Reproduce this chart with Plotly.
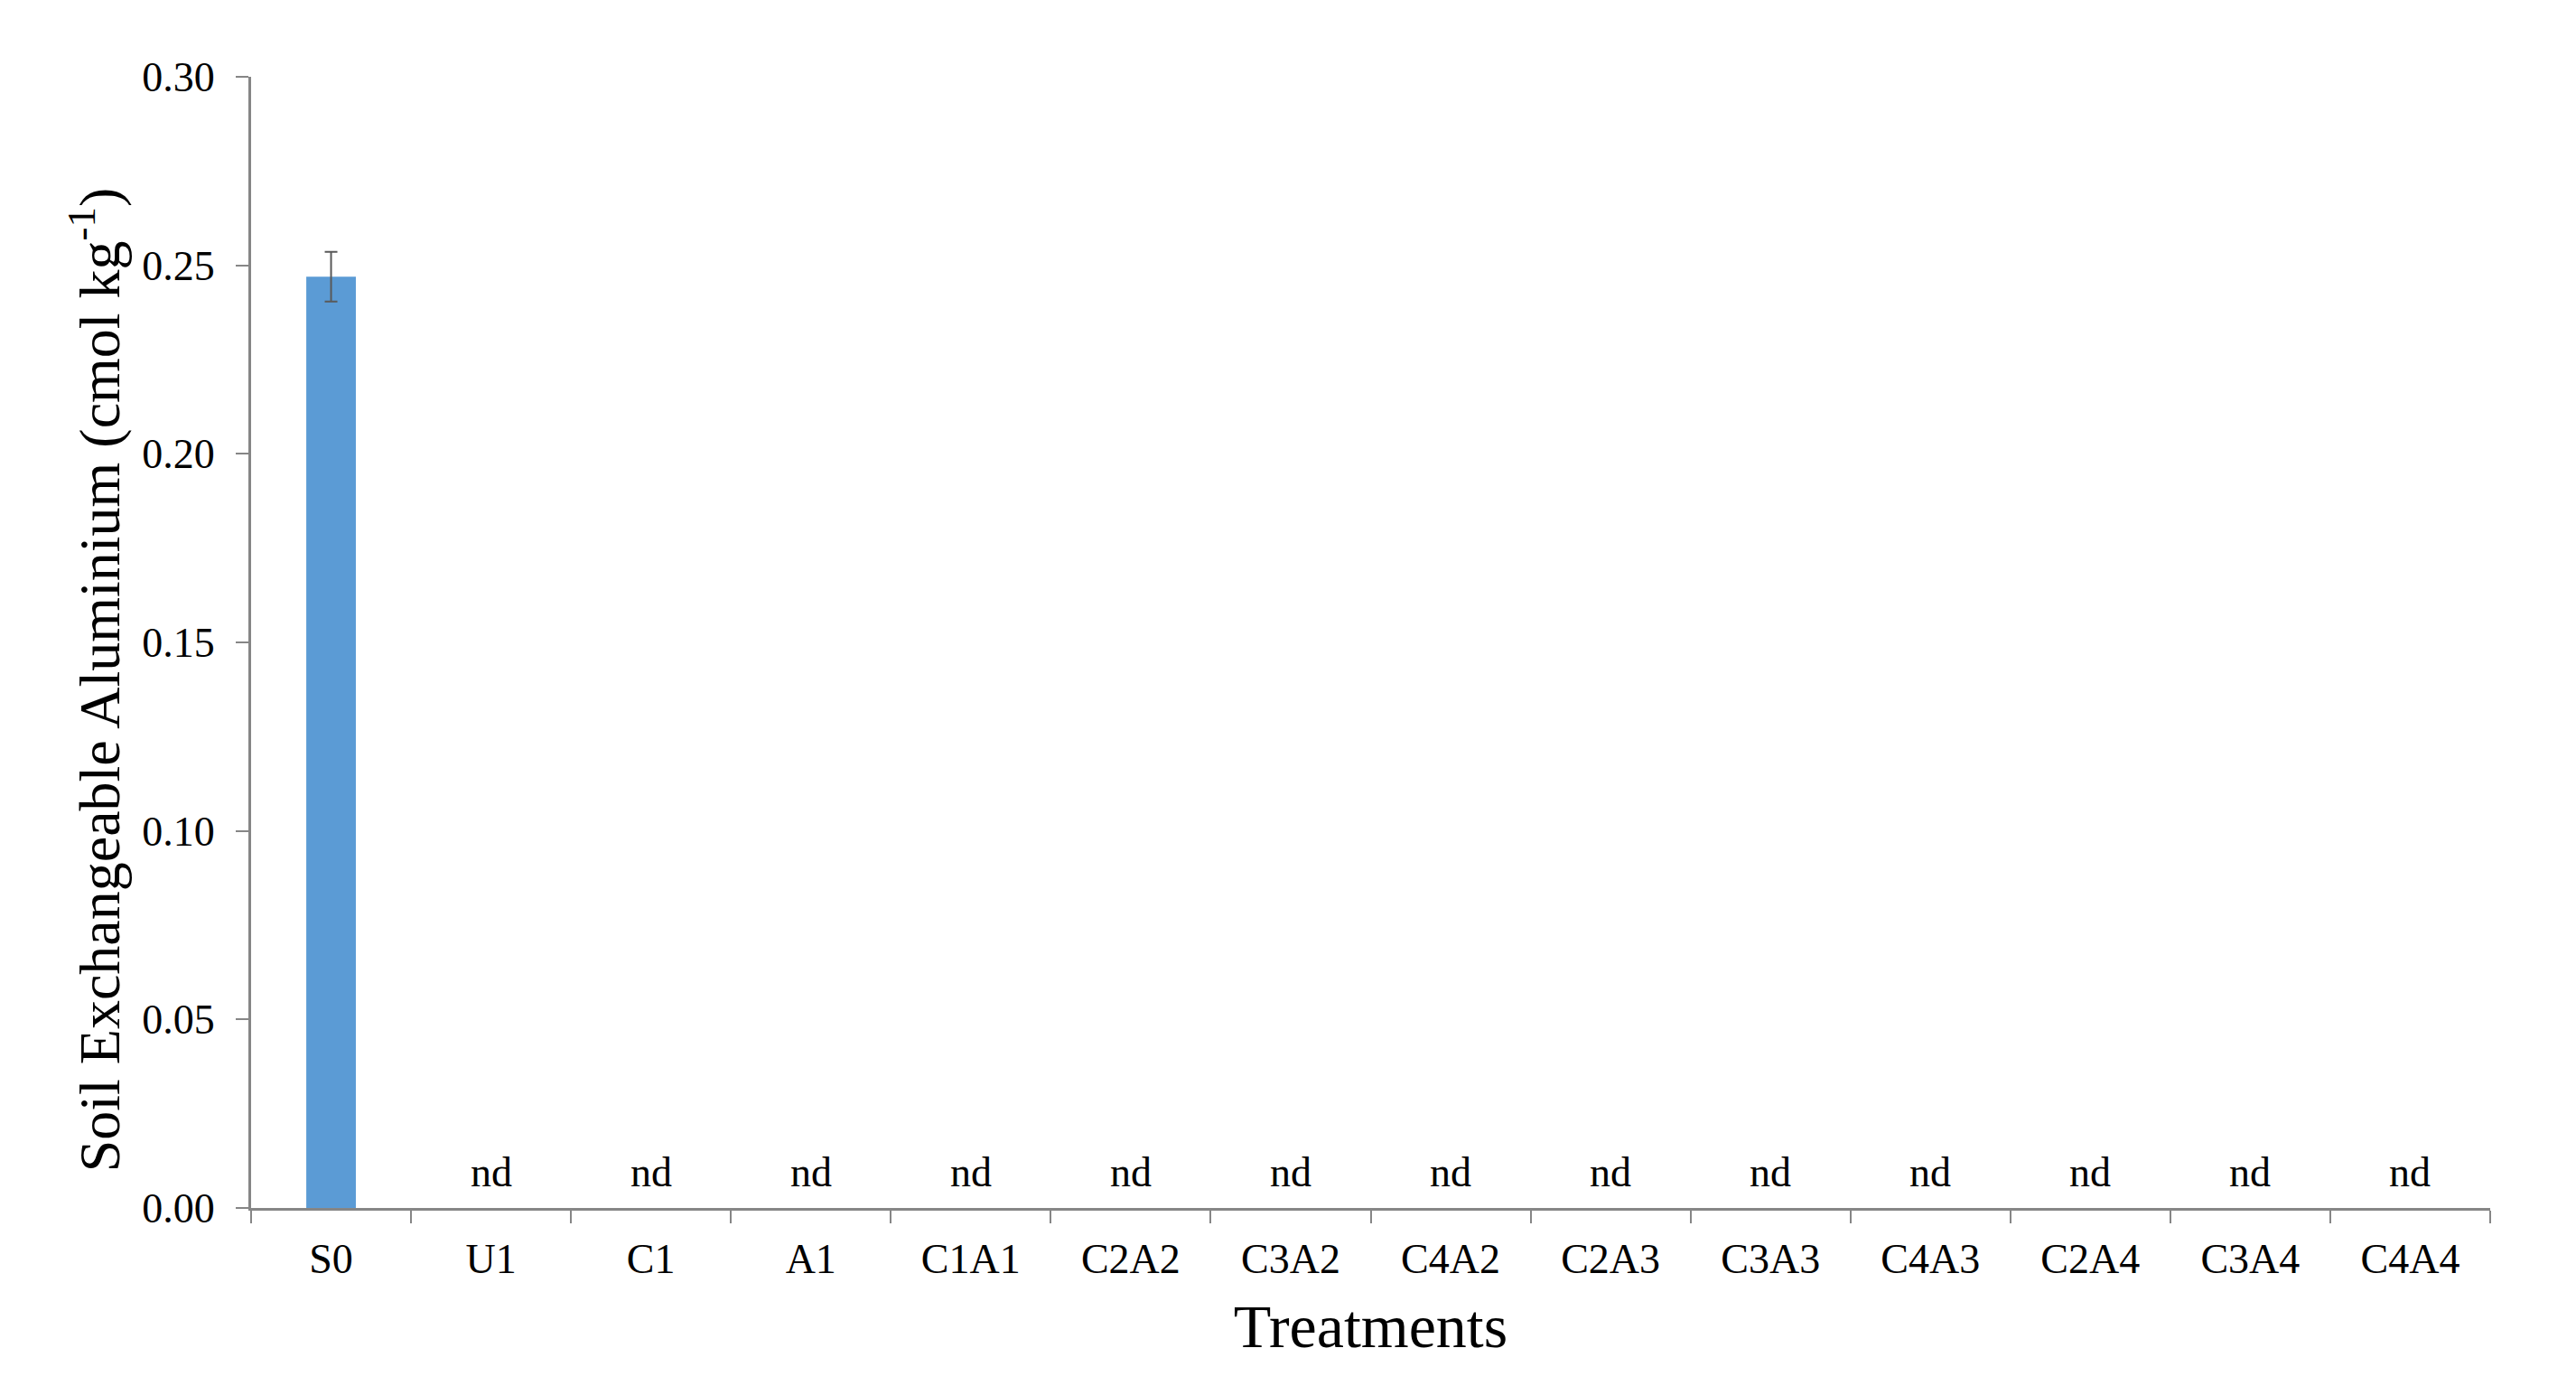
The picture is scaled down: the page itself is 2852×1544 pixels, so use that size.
import plotly.graph_objects as go

categories = ["S0", "U1", "C1", "A1", "C1A1", "C2A2", "C3A2", "C4A2",
              "C2A3", "C3A3", "C4A3", "C2A4", "C3A4", "C4A4"]
values = [0.247, None, None, None, None, None, None, None,
          None, None, None, None, None, None]
errors = [0.0066, None, None, None, None, None, None, None,
          None, None, None, None, None, None]
nd_labels = ["" if v is not None else "nd" for v in values]

FONT = "Liberation Serif"
AXIS_COLOR = "#868686"

fig = go.Figure()
fig.add_trace(go.Bar(
    x=categories,
    y=values,
    marker=dict(color="#5B9BD5", line=dict(width=0)),
    error_y=dict(type="data", array=errors, visible=True,
                 color="#595959", thickness=2, width=7),
    showlegend=False,
))

annotations = []
for cat, lab in zip(categories, nd_labels):
    if lab:
        annotations.append(dict(
            x=cat, y=0, xref="x", yref="y", text=lab, showarrow=False,
            yanchor="bottom", yshift=12,
            font=dict(family=FONT, size=46, color="#000000"),
        ))
annotations.append(dict(
    x=0, y=0.467, xref="paper", yref="paper", xshift=-173,
    text="Soil Exchangeable Aluminium (cmol kg<sup>-1</sup>)",
    textangle=-90, showarrow=False, xanchor="center", yanchor="middle",
    font=dict(family=FONT, size=64, color="#000000"),
))

fig.update_layout(
    width=2836, height=1528,
    paper_bgcolor="white", plot_bgcolor="white",
    margin=dict(l=270, r=87, t=77, b=199),
    bargap=0.69,
    font=dict(family=FONT, color="#000000"),
    annotations=annotations,
)
fig.update_xaxes(
    type="category", range=[-0.5, 13.5],
    showline=True, linecolor=AXIS_COLOR, linewidth=3,
    ticks="outside", ticklen=14, tickwidth=2, tickcolor=AXIS_COLOR,
    tickson="boundaries", ticklabelstandoff=14,
    tickfont=dict(family=FONT, size=46, color="#000000"),
    showgrid=False, zeroline=False,
    title=dict(text="Treatments", font=dict(family=FONT, size=68, color="#000000"),
               standoff=26),
)
fig.update_yaxes(
    range=[0, 0.30], dtick=0.05, tickformat=".2f",
    showline=True, linecolor=AXIS_COLOR, linewidth=3,
    ticks="outside", ticklen=14, tickwidth=2, tickcolor=AXIS_COLOR,
    ticklabelstandoff=14,
    tickfont=dict(family=FONT, size=46, color="#000000"),
    showgrid=False, zeroline=False,
)

fig.write_html("out.html")
